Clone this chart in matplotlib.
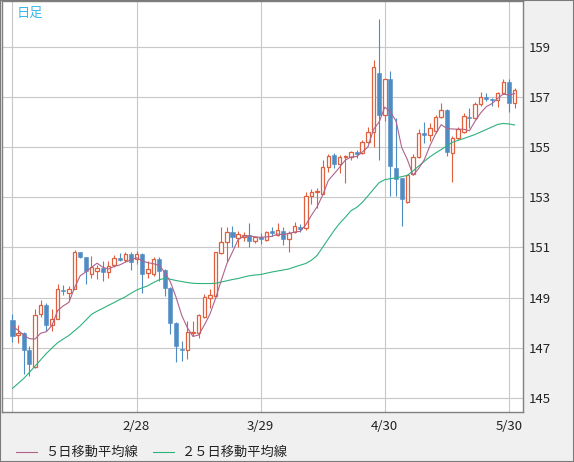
import numpy as np
import matplotlib
matplotlib.use("Agg")
import matplotlib.pyplot as plt
from matplotlib.lines import Line2D
from matplotlib.patches import Rectangle

plt.rcParams['font.family'] = ['Noto Sans CJK JP', 'DejaVu Sans']

# daily candles
opens = [148.11, 147.49, 147.60, 146.93, 146.24, 148.35, 148.69, 147.92, 148.16, 149.32,
         149.20, 149.36, 150.80, 150.60, 149.93, 150.04, 150.17, 150.00, 150.29, 150.57,
         150.49, 150.75, 150.53, 150.73, 149.96, 149.93, 150.53, 150.09, 149.40, 148.00,
         146.96, 146.91, 147.60, 147.60, 148.23, 149.00, 149.07, 150.77, 151.20, 151.60,
         151.37, 151.40, 151.51, 151.27, 151.40, 151.28, 151.64, 151.50, 151.67, 151.34,
         151.61, 151.80, 151.76, 153.03, 153.21, 153.14, 154.21, 154.70, 154.33, 154.61,
         154.61, 154.80, 154.76, 155.22, 155.58, 157.95, 156.28, 157.72, 154.17, 153.75,
         152.82, 153.91, 154.61, 155.54, 155.49, 155.63, 156.20, 156.46, 154.77, 155.37,
         155.61, 156.20, 156.16, 156.72, 156.99, 156.92, 156.87, 157.16, 157.58, 156.76]
highs = [148.33, 147.92, 147.63, 147.09, 148.56, 148.89, 148.77, 148.53, 149.56, 149.52,
         149.47, 150.89, 150.83, 150.61, 150.64, 150.29, 150.44, 150.47, 150.69, 150.77,
         150.80, 150.80, 150.84, 150.76, 150.47, 150.60, 150.60, 150.12, 149.43, 148.03,
         147.27, 148.07, 148.07, 148.36, 149.13, 149.33, 150.83, 151.80, 151.80, 151.87,
         151.67, 151.60, 151.96, 151.47, 151.56, 151.67, 151.80, 151.97, 151.80, 151.67,
         152.00, 151.93, 153.21, 153.32, 153.38, 154.47, 154.74, 154.76, 154.67, 154.70,
         154.86, 154.87, 155.29, 155.79, 158.45, 160.09, 157.72, 158.02, 156.16, 153.77,
         153.89, 154.74, 155.70, 155.99, 155.94, 156.26, 156.76, 156.52, 155.43, 155.80,
         156.36, 156.56, 156.79, 157.19, 157.16, 156.96, 157.19, 157.72, 157.72, 157.36]
lows = [147.23, 147.20, 145.97, 145.87, 146.20, 148.24, 147.67, 147.65, 148.13, 149.12,
        148.87, 149.33, 150.59, 149.53, 149.80, 149.73, 149.67, 149.80, 150.20, 150.44,
        150.40, 150.08, 150.33, 149.20, 149.80, 149.85, 149.67, 149.07, 147.53, 146.43,
        146.47, 146.57, 147.47, 147.40, 148.20, 148.57, 149.03, 150.73, 150.40, 151.03,
        151.03, 151.27, 151.03, 151.16, 151.13, 151.24, 151.47, 151.47, 151.10, 150.82,
        151.58, 151.63, 151.71, 152.72, 152.59, 153.12, 154.00, 154.17, 153.97, 153.58,
        154.50, 154.57, 154.74, 155.16, 155.00, 154.50, 156.05, 153.04, 153.04, 151.85,
        152.78, 153.87, 154.57, 155.17, 155.23, 155.57, 156.16, 154.66, 153.60, 155.30,
        155.57, 155.76, 156.12, 156.65, 156.83, 156.63, 156.60, 157.13, 156.39, 156.56]
closes = [147.47, 147.60, 146.91, 146.37, 148.32, 148.69, 147.91, 148.16, 149.33, 149.27,
          149.36, 150.81, 150.60, 150.07, 150.20, 150.17, 150.00, 150.27, 150.56, 150.51,
          150.72, 150.43, 150.72, 149.93, 150.13, 150.53, 150.07, 149.40, 147.99, 147.07,
          146.91, 147.64, 147.64, 148.29, 149.04, 149.09, 150.80, 151.20, 151.60, 151.40,
          151.53, 151.51, 151.24, 151.40, 151.32, 151.63, 151.59, 151.70, 151.32, 151.58,
          151.84, 151.74, 153.03, 153.22, 153.25, 154.21, 154.63, 154.33, 154.59, 154.66,
          154.79, 154.74, 155.22, 155.58, 158.18, 156.28, 157.70, 154.24, 153.73, 152.94,
          153.87, 154.61, 155.54, 155.49, 155.76, 156.20, 156.46, 154.80, 155.37, 155.70,
          156.23, 156.15, 156.72, 157.00, 156.93, 156.87, 157.16, 157.61, 156.76, 157.27]

# moving averages as drawn on the chart
ma5 = [147.85, 147.70, 147.50, 147.36, 147.35, 147.58, 147.64, 147.89, 148.48, 148.67,
       148.81, 149.39, 149.87, 150.02, 150.21, 150.37, 150.21, 150.14, 150.24, 150.30,
       150.41, 150.50, 150.59, 150.46, 150.39, 150.35, 150.28, 150.01, 149.62, 149.01,
       148.29, 147.80, 147.45, 147.51, 147.90, 148.34, 148.97, 149.68, 150.35, 150.82,
       151.31, 151.45, 151.46, 151.42, 151.40, 151.42, 151.44, 151.53, 151.51, 151.56,
       151.61, 151.64, 151.90, 152.28, 152.62, 153.09, 153.67, 153.93, 154.20, 154.48,
       154.60, 154.62, 154.80, 155.00, 155.70, 156.00, 156.59, 156.40, 156.03, 154.98,
       154.50, 153.88, 154.14, 154.49, 155.05, 155.52, 155.89, 155.74, 155.72, 155.71,
       155.71, 155.65, 156.03, 156.36, 156.61, 156.73, 156.94, 157.11, 157.07, 157.13]
ma25 = [145.38, 145.58, 145.78, 146.02, 146.27, 146.52, 146.77, 146.99, 147.20, 147.35,
        147.49, 147.68, 147.87, 148.10, 148.33, 148.46, 148.57, 148.69, 148.80, 148.92,
        149.03, 149.17, 149.30, 149.39, 149.47, 149.60, 149.71, 149.77, 149.73, 149.68,
        149.64, 149.60, 149.57, 149.56, 149.56, 149.56, 149.57, 149.62, 149.67, 149.72,
        149.76, 149.82, 149.87, 149.90, 149.92, 149.97, 150.02, 150.06, 150.10, 150.14,
        150.22, 150.29, 150.36, 150.49, 150.68, 151.01, 151.34, 151.67, 151.96, 152.20,
        152.46, 152.59, 152.79, 153.05, 153.32, 153.58, 153.70, 153.74, 153.77, 153.82,
        153.87, 154.05, 154.24, 154.43, 154.61, 154.76, 154.90, 155.05, 155.19, 155.27,
        155.34, 155.42, 155.50, 155.60, 155.70, 155.80, 155.90, 155.94, 155.92, 155.88]

tick_pos = [0, 22, 44, 66, 88]
tick_labels = ['', '2/28', '3/29', '4/30', '5/30']
price_ticks = [145, 147, 149, 151, 153, 155, 157, 159]

up_col = '#e0603e'
down_col = '#4f8cc4'
ma5_col = '#b0628c'
ma25_col = '#2cb27c'

W, H = 574, 462
fig = plt.figure(figsize=(W / 100, H / 100), dpi=100, facecolor='#f0f0f0')
ax = fig.add_axes([2 / W, 50 / H, 521 / W, 411 / H])
ax.set_facecolor('white')

o = np.array(opens)
h = np.array(highs)
l = np.array(lows)
c = np.array(closes)
x = np.arange(len(c))
up = c >= o

# wicks
ax.vlines(x[up], l[up], h[up], color=up_col, lw=0.8, zorder=2)
ax.vlines(x[~up], l[~up], h[~up], color=down_col, lw=0.8, zorder=2)

# bodies
body = np.maximum(np.abs(c - o), 0.04)
bottom = np.minimum(o, c)
ax.bar(x[up], body[up], bottom=bottom[up], width=0.62, facecolor='white',
       edgecolor=up_col, linewidth=0.9, zorder=3)
ax.bar(x[~up], body[~up], bottom=bottom[~up], width=0.72, color=down_col,
       edgecolor=down_col, linewidth=0.4, zorder=3)

ax.plot(x, ma25, color=ma25_col, lw=0.8, zorder=4)
ax.plot(x, ma5, color=ma5_col, lw=0.8, zorder=4)

ax.set_xlim(-1.86, 90.5)
ax.set_ylim(144.44, 160.82)
ax.set_xticks(tick_pos)
ax.set_xticklabels(tick_labels, fontsize=9.5, color='#222222')
ax.set_yticks(price_ticks)
ax.set_yticklabels([str(p) for p in price_ticks], fontsize=9.5, color='#222222')
ax.yaxis.tick_right()
ax.tick_params(axis='x', length=0, pad=6)
ax.tick_params(axis='y', length=0, pad=4)
ax.grid(True, color='#c8c8c8', lw=0.8, zorder=0)
ax.set_axisbelow(True)
for s in ax.spines.values():
    s.set_color('#808080')
    s.set_linewidth(1.0)

ax.text(15 / 521, 1 - 12 / 411, '日足', transform=ax.transAxes, fontsize=9.5,
        color='#38b6ea', va='center', ha='left')

# legend drawn by hand
ly = (H - 452) / H
fig.add_artist(Line2D([16 / W, 37 / W], [ly, ly], color=ma5_col, lw=0.8))
fig.text(45 / W, ly, '５日移動平均線', fontsize=9.5, va='center', ha='left', color='#222222')
fig.add_artist(Line2D([153 / W, 174 / W], [ly, ly], color=ma25_col, lw=0.8))
fig.text(182 / W, ly, '２５日移動平均線', fontsize=9.5, va='center', ha='left', color='#222222')

fig.add_artist(Rectangle((0, 0), 1, 1, transform=fig.transFigure, fill=False,
                         edgecolor='#7a7a7a', lw=1.5))

fig.savefig('out.png', dpi=100, facecolor=fig.get_facecolor())
